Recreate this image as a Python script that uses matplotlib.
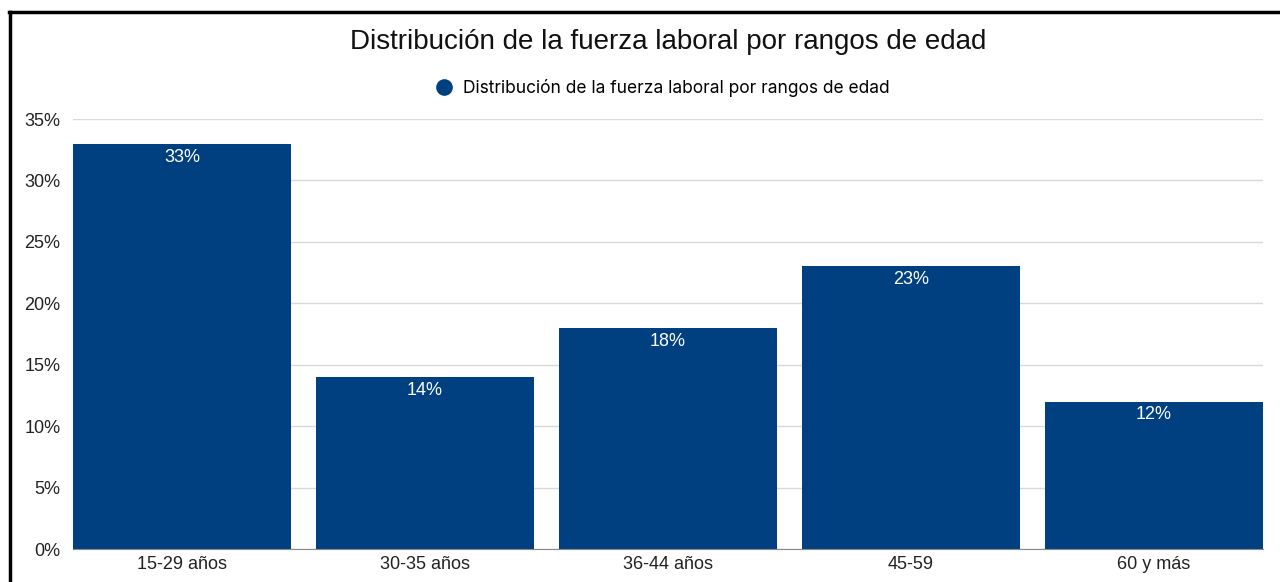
import matplotlib
matplotlib.use('Agg')
import matplotlib.pyplot as plt
from matplotlib.lines import Line2D
from matplotlib.ticker import FuncFormatter

# data
categorias = ['15-29 años', '30-35 años', '36-44 años', '45-59', '60 y más']
valores = [33, 14, 18, 23, 12]
titulo = 'Distribución de la fuerza laboral por rangos de edad'
serie = 'Distribución de la fuerza laboral por rangos de edad'

azul = '#003f80'

plt.rcParams['font.family'] = ['Liberation Sans', 'DejaVu Sans']

fig = plt.figure(figsize=(12.8, 5.82), dpi=100)
ax = fig.add_axes([0.057, 0.0567, 0.9297, 0.7388])

w = 0.897
x = range(len(categorias))
bars = ax.bar(x, valores, width=w, color=azul, zorder=3)

for b, v in zip(bars, valores):
    ax.text(b.get_x() + b.get_width() / 2, v - 0.4, f'{v}%', ha='center', va='top',
            color='white', fontsize=13, zorder=4)

ax.set_xlim(-w / 2, len(categorias) - 1 + w / 2)
ax.set_ylim(0, 35)
ax.set_yticks(range(0, 36, 5))
ax.yaxis.set_major_formatter(FuncFormatter(lambda v, p: f'{int(v)}%'))
ax.set_xticks(list(x))
ax.set_xticklabels(categorias)
ax.tick_params(axis='both', length=0, labelsize=13, colors='#222222')
ax.tick_params(axis='x', pad=5)
ax.tick_params(axis='y', pad=9)
ax.grid(axis='y', color='#d9d9d9', linewidth=1, zorder=0)
for s in ['top', 'right', 'left']:
    ax.spines[s].set_visible(False)
ax.spines['bottom'].set_color('#888888')
ax.spines['bottom'].set_zorder(5)

fig.text(0.522, 1 - 42 / 582, titulo, ha='center', va='center', fontsize=20, color='#111111')

leg = [Line2D([0], [0], marker='o', color='w', markerfacecolor=azul, markersize=13)]
fig.legend(leg, [serie], loc='center', bbox_to_anchor=(0.514, 1 - 88 / 582), frameon=False,
           handletextpad=0.1, prop={'family': 'Inter', 'size': 12.5})

# black frame (top and left edge)
fig.add_artist(Line2D([9.5 / 1280, 9.5 / 1280], [0, 1 - 11.5 / 582], color='black', lw=2.5,
                      transform=fig.transFigure))
fig.add_artist(Line2D([8.5 / 1280, 1], [1 - 11.5 / 582, 1 - 11.5 / 582], color='black', lw=2.5,
                      transform=fig.transFigure))

fig.savefig('out.png', dpi=100)
